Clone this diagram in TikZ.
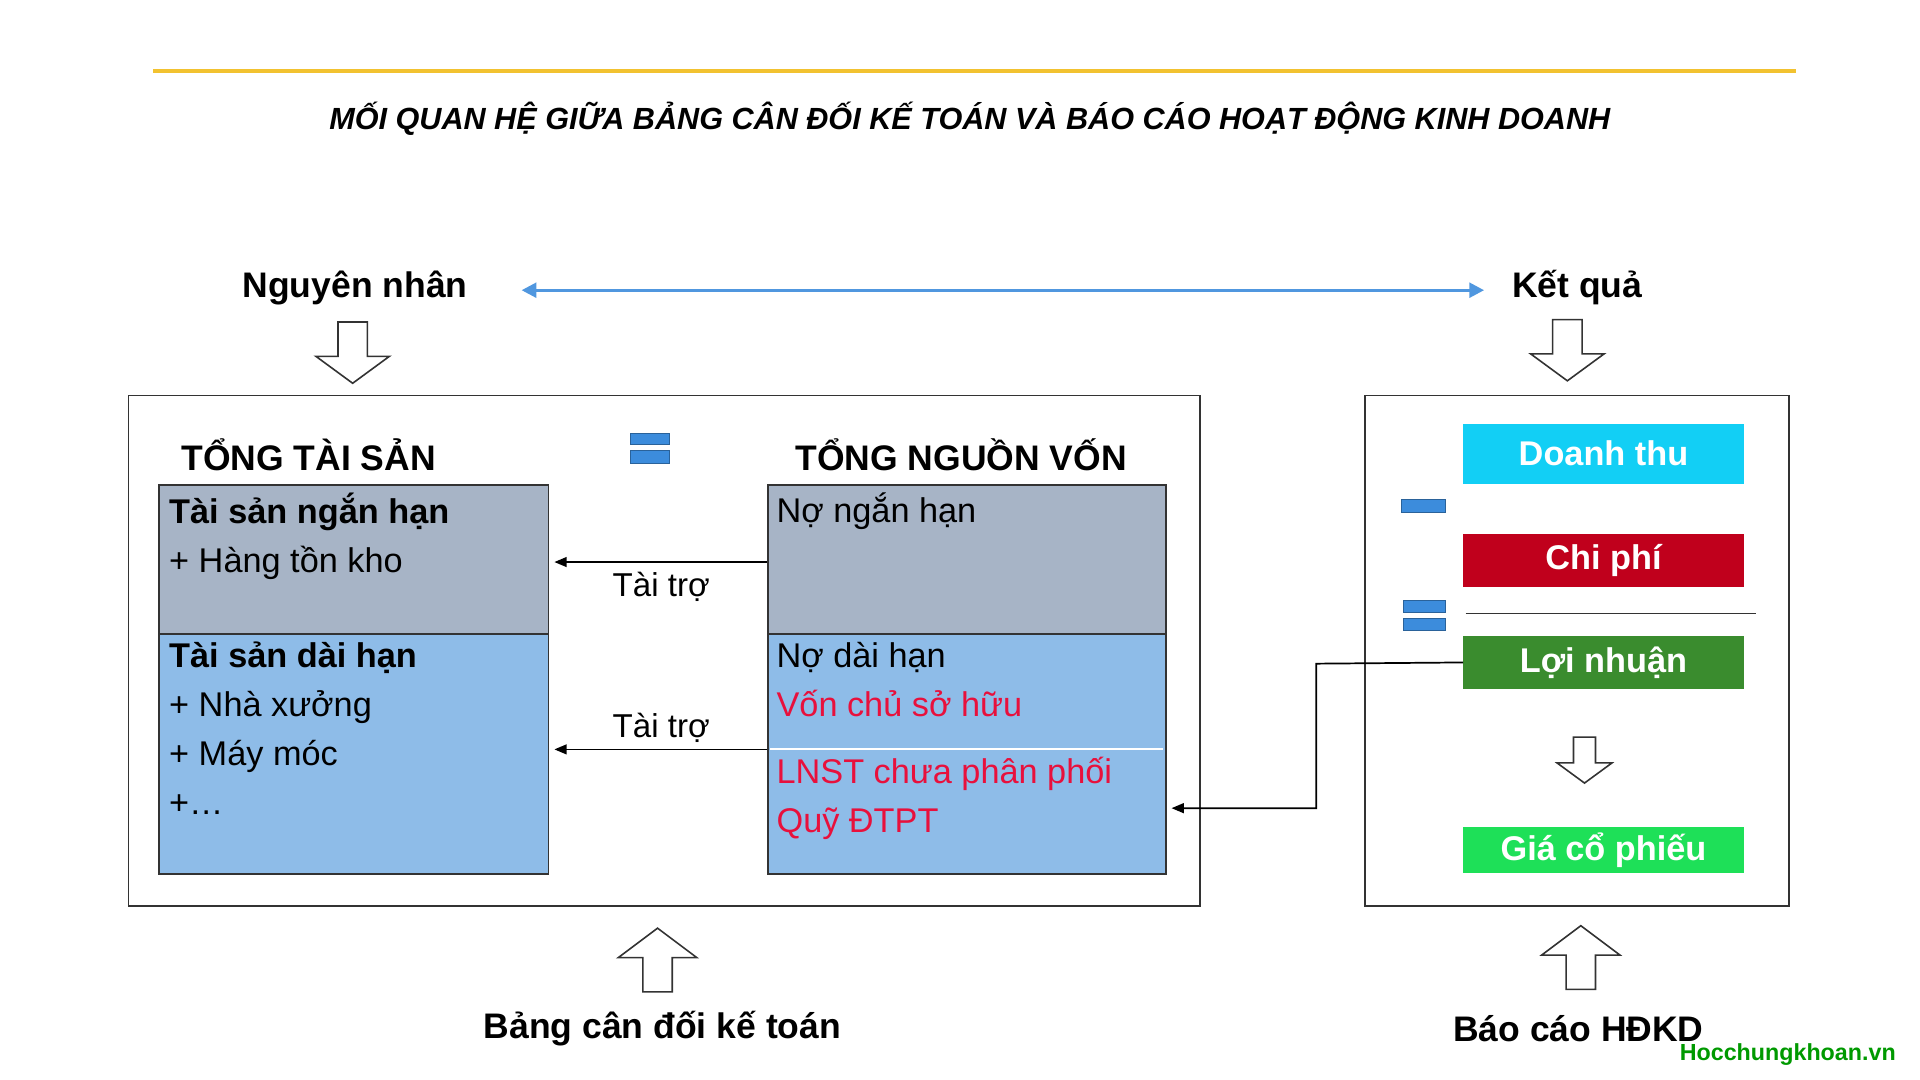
\documentclass[tikz,border=0pt]{standalone}
\usepackage{fontspec}
\setmainfont{Liberation Sans}
\newfontfamily\wmfont{Liberation Sans}
\usetikzlibrary{arrows.meta}
\definecolor{gbox}{HTML}{A7B4C6}
\definecolor{bbox}{HTML}{8EBCE8}
\definecolor{eqb}{HTML}{3C8CDC}
\definecolor{ared}{HTML}{E8103C}
\definecolor{cdt}{HTML}{12CFF5}
\definecolor{ccp}{HTML}{C0001C}
\definecolor{cln}{HTML}{3A8C2E}
\definecolor{cgia}{HTML}{1EE058}
\definecolor{gold}{HTML}{F2C230}
\begin{document}
\begin{tikzpicture}[x=1pt,y=-1pt,
  head/.style={font=\bfseries\fontsize{29}{29}\selectfont},
  body/.style={font=\fontsize{28}{40}\selectfont,align=left,anchor=north west,inner sep=0pt},
  cell/.style={draw=black!80,line width=1.5pt},
  tag/.style={text=white,font=\bfseries\fontsize{28}{28}\selectfont,inner sep=0pt},
  hol/.style={draw=black!80,line width=1.3pt,fill=white,line join=miter},
  con/.style={line width=1.4pt,-{Triangle[length=10pt,width=8pt]}},
  bar/.style={fill=eqb,draw=eqb!70!black,line width=0.5pt}]
\useasboundingbox (0,0) rectangle (1568,882);
\fill[white] (0,0) rectangle (1568,882);
\draw[gold,line width=3.5pt] (125,58) -- (1467,58);
\node[font=\bfseries\itshape\fontsize{25}{25}\selectfont] (title) at (792,97) {MỐI QUAN HỆ GIỮA BẢNG CÂN ĐỐI KẾ TOÁN VÀ BÁO CÁO HOẠT ĐỘNG KINH DOANH};
\node[head] (nn) at (290,235) {Nguyên nhân};
\node[head] (kq) at (1288,235) {Kết quả};
\coordinate (ba1) at (426,237); \coordinate (ba2) at (1212,237);
\draw[eqb!90!white,line width=2.5pt,{Triangle[length=12pt,width=12pt]}-{Triangle[length=12pt,width=12pt]}] (ba1) -- (ba2);
% hollow arrows
\foreach \x/\y/\d in {288/263/1, 1280/261/1, 1294/602/0.75}{
 \draw[hol] (\x-12*\d,\y) -- (\x+12*\d,\y) -- (\x+12*\d,\y+28*\d) -- (\x+30*\d,\y+28*\d) -- (\x,\y+50*\d) -- (\x-30*\d,\y+28*\d) -- (\x-12*\d,\y+28*\d) -- cycle;}
\foreach \x/\y in {537/810, 1291/808}{
 \draw[hol] (\x-12,\y) -- (\x+12,\y) -- (\x+12,\y-28) -- (\x+32,\y-28) -- (\x,\y-52) -- (\x-32,\y-28) -- (\x-12,\y-28) -- cycle;}
% left main box
\node[draw=black!80,line width=1.5pt,minimum width=875pt,minimum height=417pt,inner sep=0pt] (bal) at (542.5,531.5) {};
\node[head] (tts) at (252,371) {TỔNG TÀI SẢN};
\node[head] (tnv) at (785,371) {TỔNG NGUỒN VỐN};
\fill[bar] (515,354) rectangle (547,363); \fill[bar] (515,368) rectangle (547,378);
\node[cell,fill=gbox,minimum width=318pt,minimum height=122pt,inner sep=0pt] (tsn) at (289,457) {};
\node[cell,fill=bbox,minimum width=318pt,minimum height=196pt,inner sep=0pt] (tsd) at (289,616) {};
\node[cell,fill=gbox,minimum width=325pt,minimum height=122pt,inner sep=0pt] (nnh) at (789.5,457) {};
\node[cell,fill=bbox,minimum width=325pt,minimum height=196pt,inner sep=0pt] (ndh) at (789.5,616) {};
\draw[white,line width=1.5pt] (629,612) -- (950,612);
\node[body] (t1) at (138,402) {\textbf{Tài sản ngắn hạn}\\+ Hàng tồn kho};
\node[body] (t2) at (138,524) {\textbf{Tài sản dài hạn}\\+ Nhà xưởng\\+ Máy móc\\+…};
\node[body] (t3) at (634,402) {Nợ ngắn hạn};
\node[body] (t4) at (634,524) {Nợ dài hạn\\\textcolor{ared}{Vốn chủ sở hữu}};
\node[body,text=ared] (t5) at (634,618) {LNST chưa phân phối\\Quỹ ĐTPT};
\coordinate (a1s) at (nnh.west|-0,459); \coordinate (a1e) at (tsn.east|-0,459);
\coordinate (a2s) at (ndh.west|-0,612); \coordinate (a2e) at (tsd.east|-0,612);
\draw[con] (a1s) -- ([xshift=4pt]a1e);
\draw[con] (a2s) -- ([xshift=4pt]a2e);
\node[font=\fontsize{27}{27}\selectfont] (tt1) at (540,479) {Tài trợ};
\node[font=\fontsize{27}{27}\selectfont] (tt2) at (540,594) {Tài trợ};
% right box
\node[draw=black!80,line width=1.5pt,minimum width=346pt,minimum height=417pt,inner sep=0pt] (kd) at (1288,531.5) {};
\node[tag,fill=cdt,minimum width=229pt,minimum height=49pt] (dt) at (1309.5,370.5) {Doanh thu};
\node[tag,fill=ccp,minimum width=229pt,minimum height=43pt] (cp) at (1309.5,457.5) {Chi phí};
\node[tag,fill=cln,minimum width=229pt,minimum height=44pt] (ln) at (1309.5,541) {Lợi nhuận};
\node[tag,fill=cgia,minimum width=229pt,minimum height=38pt] (gia) at (1309.5,694) {Giá cổ phiếu};
\fill[bar] (1144,408) rectangle (1180,418);
\fill[bar] (1146,490) rectangle (1180,500); \fill[bar] (1146,505) rectangle (1180,515);
\draw[black!80,line width=1.3pt] (1197,501) -- (1434,501);
\coordinate (c1) at (1075,542); \coordinate (c2) at (1075,660); \coordinate (c3) at (ndh.east|-0,660);
\draw[con] (ln.west) -- (c1) -- (c2) -- ([xshift=4pt]c3);
\node[head] (bcd) at (541,840) {Bảng cân đối kế toán};
\node[head] (bch) at (1289,840) {Báo cáo HĐKD};
\node[font=\wmfont\bfseries\fontsize{19}{19}\selectfont,text=green!60!black] (wm) at (1460,861) {Hocchungkhoan.vn};
\end{tikzpicture}
\end{document}
